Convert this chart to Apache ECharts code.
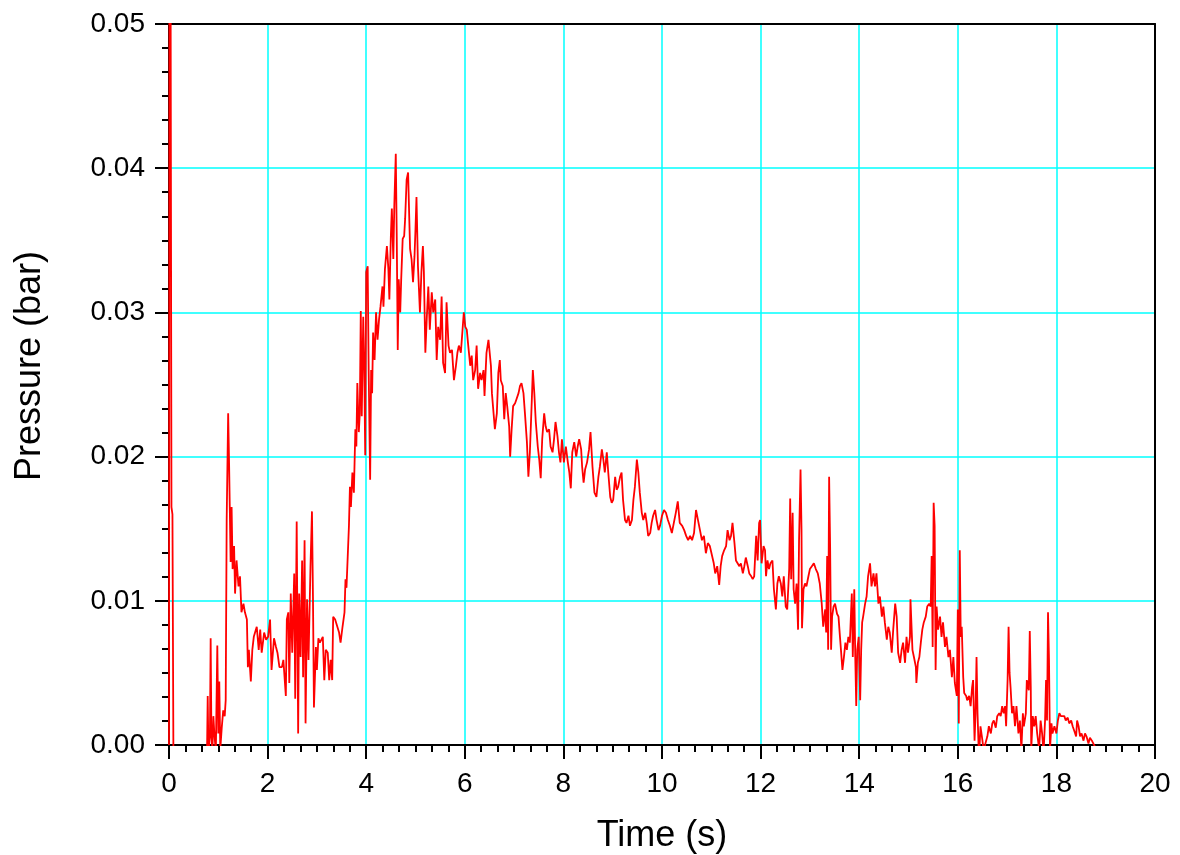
<!DOCTYPE html>
<html>
<head>
<meta charset="utf-8">
<title>Pressure vs Time</title>
<script src="https://cdn.jsdelivr.net/npm/echarts@6/dist/echarts.min.js"></script>
<style>
  html, body { margin: 0; padding: 0; background: #ffffff; }
  #chart { width: 1180px; height: 855px; }
</style>
</head>
<body>
<div id="chart"></div>
<script>
// Pressure trace, [time (s), pressure (bar)], split by phase of the event.
const initialPulse = [
  [0, 0], [0.01, 0.062], [0.03, 0.058], [0.05, 0.0165], [0.07, 0.016], [0.09, -0.001],
  [0.3, -0.001], [0.5, -0.001], [0.7, -0.001], [0.77, -0.001]
];

const earlyBurst = [
  [0.785, 0.0034], [0.80, -0.0005], [0.83, 0.0006], [0.845, 0.0074], [0.86, 0.0008], [0.88, -0.0005],
  [0.90, 0.002], [0.92, 0.0008], [0.95, -0.0005], [0.98, 0.0069], [1.00, 0.0008], [1.02, 0.0044],
  [1.04, -0.0003], [1.07, 0.0012], [1.10, 0.0024], [1.13, 0.002], [1.15, 0.0031],
  [1.17, 0.0156], [1.20, 0.023], [1.22, 0.0193], [1.25, 0.0127], [1.27, 0.0165], [1.29, 0.0122],
  [1.32, 0.0138], [1.34, 0.0105], [1.37, 0.0128], [1.41, 0.011], [1.44, 0.0117], [1.47, 0.0092],
  [1.51, 0.0098], [1.54, 0.0092], [1.58, 0.0087], [1.60, 0.0054], [1.62, 0.0066], [1.66, 0.0044],
  [1.69, 0.0066], [1.72, 0.0075], [1.78, 0.0082], [1.82, 0.0066], [1.85, 0.008], [1.88, 0.0064],
  [1.93, 0.0078], [1.97, 0.0073], [2.01, 0.0075], [2.05, 0.0087], [2.08, 0.0052], [2.13, 0.0074],
  [2.17, 0.0068], [2.20, 0.0064], [2.24, 0.0054], [2.29, 0.0054], [2.32, 0.0059], [2.37, 0.0034],
  [2.39, 0.0087], [2.42, 0.0092], [2.44, 0.0043], [2.47, 0.0105], [2.50, 0.0064], [2.54, 0.0119],
  [2.56, 0.0032], [2.59, 0.0155], [2.62, 0.0008], [2.64, 0.0105], [2.67, 0.0061], [2.70, 0.0128],
  [2.72, 0.0047], [2.75, 0.0142], [2.77, 0.0015], [2.80, 0.0101], [2.83, 0.0059], [2.87, 0.0124],
  [2.90, 0.0162], [2.92, 0.0103], [2.94, 0.0026], [2.98, 0.0068], [3.00, 0.0052], [3.03, 0.0074],
  [3.06, 0.0071], [3.12, 0.0075], [3.15, 0.0045], [3.18, 0.0066], [3.22, 0.0064], [3.25, 0.0045],
  [3.28, 0.0059], [3.31, 0.0045], [3.33, 0.0089], [3.37, 0.0087], [3.41, 0.0088], [3.45, 0.0078],
  [3.48, 0.0071], [3.52, 0.0082], [3.56, 0.0092], [3.58, 0.0115], [3.60, 0.0109], [3.65, 0.0152],
  [3.67, 0.0179], [3.69, 0.0165], [3.72, 0.0189], [3.75, 0.0175], [3.78, 0.0219], [3.80, 0.0207]
];

const mainPeak = [
  [3.82, 0.0251], [3.85, 0.0217], [3.87, 0.023], [3.89, 0.0301], [3.91, 0.0228], [3.94, 0.0297],
  [3.96, 0.0263], [3.98, 0.0201], [4.00, 0.0328], [4.03, 0.0332], [4.05, 0.026], [4.08, 0.0184],
  [4.10, 0.026], [4.12, 0.0244], [4.14, 0.0286], [4.17, 0.0267], [4.20, 0.03], [4.23, 0.0281],
  [4.26, 0.0295], [4.29, 0.0304], [4.33, 0.0318], [4.35, 0.0304], [4.38, 0.033], [4.42, 0.0346],
  [4.45, 0.033], [4.47, 0.0309], [4.50, 0.0353], [4.52, 0.0372], [4.55, 0.0337], [4.57, 0.0374],
  [4.60, 0.041], [4.62, 0.0351], [4.64, 0.0274], [4.66, 0.0323], [4.69, 0.03], [4.71, 0.0323],
  [4.74, 0.0351], [4.77, 0.0353], [4.79, 0.0365], [4.82, 0.0392], [4.85, 0.0397], [4.87, 0.037],
  [4.89, 0.0344], [4.92, 0.0337], [4.95, 0.0321], [4.98, 0.0339], [5.00, 0.0358], [5.02, 0.038],
  [5.05, 0.0332], [5.07, 0.0316], [5.09, 0.03], [5.12, 0.0328], [5.15, 0.0346], [5.17, 0.0328],
  [5.20, 0.0272], [5.23, 0.0297], [5.26, 0.0318], [5.29, 0.0288], [5.33, 0.0314], [5.36, 0.03],
  [5.40, 0.0309], [5.43, 0.0267], [5.46, 0.029], [5.50, 0.0281], [5.53, 0.0311], [5.56, 0.0265],
  [5.60, 0.0258], [5.63, 0.0307], [5.67, 0.0277], [5.70, 0.0272], [5.74, 0.0274], [5.78, 0.0253],
  [5.82, 0.0263], [5.85, 0.0272], [5.88, 0.0277], [5.92, 0.0272], [5.95, 0.0286], [5.98, 0.03],
  [6.01, 0.029], [6.04, 0.0288], [6.07, 0.0277], [6.11, 0.0263], [6.14, 0.027], [6.17, 0.0253],
  [6.21, 0.026], [6.24, 0.0277], [6.27, 0.0247], [6.31, 0.0258], [6.34, 0.0253], [6.38, 0.026],
  [6.40, 0.0242], [6.44, 0.0272], [6.48, 0.0281], [6.53, 0.0263], [6.55, 0.0244], [6.58, 0.0244],
  [6.61, 0.0219], [6.65, 0.023], [6.68, 0.0258], [6.71, 0.0267], [6.73, 0.0253], [6.77, 0.0249],
  [6.80, 0.0226], [6.83, 0.0244], [6.86, 0.0235], [6.90, 0.0221], [6.92, 0.02], [6.95, 0.0219],
  [6.98, 0.0235], [7.02, 0.0237], [7.05, 0.024], [7.09, 0.0244], [7.12, 0.0249], [7.15, 0.0251],
  [7.19, 0.0244], [7.22, 0.023], [7.26, 0.021], [7.29, 0.0186], [7.32, 0.0203], [7.36, 0.024],
  [7.38, 0.026], [7.41, 0.0244], [7.44, 0.0224], [7.48, 0.0207], [7.51, 0.0198], [7.54, 0.0185],
  [7.57, 0.0212], [7.61, 0.023], [7.64, 0.0221], [7.67, 0.0217], [7.71, 0.0219], [7.74, 0.0207],
  [7.78, 0.0203], [7.81, 0.0212], [7.84, 0.0224], [7.88, 0.0214], [7.91, 0.0203]
];

const decay = [
  [7.94, 0.0196], [7.97, 0.0212], [8.01, 0.0196], [8.05, 0.0207], [8.09, 0.0196], [8.12, 0.0189],
  [8.15, 0.0178], [8.18, 0.0203], [8.22, 0.021], [8.26, 0.02], [8.29, 0.0207], [8.32, 0.0212],
  [8.36, 0.0205], [8.38, 0.0193], [8.41, 0.0182], [8.44, 0.0191], [8.48, 0.0196], [8.52, 0.0205],
  [8.55, 0.0217], [8.59, 0.0193], [8.63, 0.0175], [8.67, 0.0172], [8.71, 0.0186], [8.74, 0.0193],
  [8.78, 0.0205], [8.81, 0.0198], [8.84, 0.0189], [8.88, 0.0203], [8.91, 0.0189], [8.95, 0.0172],
  [8.98, 0.0168], [9.01, 0.017], [9.05, 0.0186], [9.08, 0.0177], [9.11, 0.0179], [9.15, 0.0186],
  [9.18, 0.0189], [9.21, 0.017], [9.25, 0.0156], [9.28, 0.0154], [9.32, 0.0159], [9.35, 0.0152],
  [9.39, 0.0156], [9.42, 0.017], [9.45, 0.0179], [9.49, 0.0198], [9.52, 0.0189], [9.55, 0.0175],
  [9.59, 0.0161], [9.62, 0.0156], [9.66, 0.0161], [9.69, 0.0154], [9.72, 0.0145], [9.76, 0.0147],
  [9.79, 0.0154], [9.82, 0.0159], [9.86, 0.0163], [9.89, 0.0156], [9.93, 0.0149], [9.96, 0.0152],
  [10.00, 0.0159], [10.04, 0.0163], [10.08, 0.0161], [10.12, 0.0156], [10.16, 0.0152], [10.20, 0.0147],
  [10.24, 0.0154], [10.28, 0.0161], [10.32, 0.0169], [10.36, 0.0154], [10.41, 0.0152], [10.45, 0.0149],
  [10.49, 0.0145], [10.53, 0.0142], [10.57, 0.0145], [10.61, 0.0142], [10.65, 0.0147], [10.69, 0.0163],
  [10.73, 0.0156], [10.77, 0.0149], [10.81, 0.0142], [10.85, 0.0145], [10.89, 0.0133], [10.93, 0.014],
  [10.97, 0.0138], [11.01, 0.0138], [11.05, 0.0126], [11.08, 0.0119], [11.12, 0.0124], [11.16, 0.0111],
  [11.19, 0.0124], [11.22, 0.0131], [11.26, 0.0135], [11.30, 0.0138], [11.33, 0.0149], [11.37, 0.0142],
  [11.40, 0.0145], [11.43, 0.0154], [11.47, 0.014], [11.50, 0.0128], [11.54, 0.0128], [11.57, 0.0124],
  [11.60, 0.0126], [11.64, 0.0119], [11.67, 0.0124], [11.70, 0.013], [11.74, 0.0124], [11.77, 0.0119],
  [11.81, 0.0117], [11.84, 0.0115], [11.87, 0.0117], [11.91, 0.0145], [11.94, 0.0128], [11.97, 0.0154],
  [11.99, 0.0156]
];

const lateSpikes = [
  [12.02, 0.0126], [12.06, 0.0138], [12.09, 0.0135], [12.11, 0.0117], [12.14, 0.0128], [12.17, 0.0122],
  [12.20, 0.0126], [12.24, 0.0128], [12.27, 0.0108], [12.31, 0.0094], [12.34, 0.0112], [12.37, 0.0117],
  [12.41, 0.0112], [12.44, 0.0103], [12.47, 0.0117], [12.51, 0.0096], [12.54, 0.0094], [12.58, 0.0122],
  [12.60, 0.0171], [12.62, 0.0115], [12.65, 0.0161], [12.67, 0.0108], [12.70, 0.0098], [12.73, 0.0112],
  [12.76, 0.008], [12.78, 0.0142], [12.81, 0.0191], [12.83, 0.0149], [12.84, 0.0081], [12.87, 0.0108],
  [12.90, 0.0112], [12.93, 0.011], [12.97, 0.0117], [13.00, 0.0122], [13.04, 0.0124], [13.08, 0.0126],
  [13.12, 0.0122], [13.16, 0.0119], [13.20, 0.0112], [13.24, 0.0098], [13.27, 0.0082], [13.31, 0.0094],
  [13.33, 0.0078], [13.35, 0.0131], [13.37, 0.0066], [13.39, 0.0186], [13.41, 0.0138], [13.43, 0.0066],
  [13.45, 0.0089], [13.48, 0.0096], [13.51, 0.0098], [13.55, 0.0091], [13.58, 0.0089], [13.61, 0.0075],
  [13.63, 0.0066], [13.66, 0.0052], [13.69, 0.0061], [13.72, 0.0071], [13.75, 0.0066], [13.78, 0.0075],
  [13.81, 0.0071], [13.85, 0.0105], [13.87, 0.0061], [13.90, 0.0108], [13.92, 0.0061], [13.94, 0.0027],
  [13.96, 0.0066], [13.99, 0.0075], [14.02, 0.0031], [14.04, 0.0066], [14.06, 0.0085], [14.08, 0.0089],
  [14.12, 0.0098], [14.15, 0.0103], [14.18, 0.0117], [14.22, 0.0126], [14.25, 0.011], [14.29, 0.0119],
  [14.32, 0.011], [14.35, 0.0119], [14.39, 0.0098], [14.42, 0.0103], [14.46, 0.0089], [14.49, 0.0096],
  [14.52, 0.0085], [14.56, 0.0073], [14.59, 0.0082], [14.62, 0.0078], [14.66, 0.0064], [14.69, 0.008],
  [14.73, 0.0098], [14.76, 0.0089], [14.79, 0.0064], [14.83, 0.0057], [14.86, 0.0066], [14.89, 0.0071],
  [14.93, 0.0057], [14.96, 0.0075], [14.99, 0.0064], [15.03, 0.0075], [15.04, 0.0101], [15.08, 0.0066],
  [15.11, 0.0061], [15.15, 0.0054], [15.16, 0.0043], [15.19, 0.0057], [15.22, 0.0061], [15.25, 0.0071],
  [15.28, 0.008], [15.31, 0.0085], [15.35, 0.0089], [15.38, 0.0096], [15.42, 0.0098], [15.45, 0.0096],
  [15.47, 0.0131], [15.49, 0.0068], [15.51, 0.0168], [15.53, 0.0152], [15.55, 0.0052], [15.57, 0.0096],
  [15.60, 0.008], [15.64, 0.0089], [15.67, 0.0075], [15.70, 0.0085], [15.74, 0.0068], [15.77, 0.0075],
  [15.81, 0.0061], [15.84, 0.0066], [15.88, 0.0047], [15.91, 0.0061], [15.94, 0.0043], [15.98, 0.0034],
  [16.00, 0.0094], [16.02, 0.0015], [16.04, 0.0135], [16.06, 0.0075], [16.08, 0.0082]
];

const tail = [
  [16.11, 0.0047], [16.13, 0.0036], [16.17, 0.0034], [16.19, 0.0031], [16.23, 0.0034], [16.26, 0.0027],
  [16.29, 0.004], [16.31, 0.0045], [16.34, 0.0003], [16.36, 0.0022], [16.38, 0.0061], [16.40, 0.0022],
  [16.43, -0.001], [16.46, 0.0013], [16.50, 0.0003], [16.53, -0.0005], [16.56, 0.0001], [16.60, 0.0006],
  [16.63, 0.0013], [16.67, 0.0008], [16.70, 0.0015], [16.73, 0.0017], [16.77, 0.0012], [16.80, 0.002],
  [16.84, 0.0022], [16.87, 0.002], [16.90, 0.0027], [16.93, 0.0022], [16.96, 0.0027], [16.98, 0.0013],
  [17.01, 0.0045], [17.03, 0.0082], [17.05, 0.005], [17.07, 0.004], [17.10, 0.0022], [17.13, 0.0027],
  [17.16, 0.0013], [17.19, 0.0027], [17.23, 0.0008], [17.26, 0.0017], [17.29, -0.0003], [17.32, 0.0022],
  [17.34, 0.0013], [17.38, 0.0022], [17.40, 0.0045], [17.44, 0.0038], [17.46, 0.0079], [17.48, 0.004],
  [17.49, -0.0003], [17.52, 0.002], [17.55, 0.0013], [17.58, 0.002], [17.61, 0.0008], [17.65, -0.0003],
  [17.68, 0.0017], [17.71, 0.0008], [17.74, -0.0005], [17.77, 0.0017], [17.79, 0.0045], [17.81, 0.0017],
  [17.83, 0.0092], [17.85, 0.0059], [17.87, -0.0003], [17.90, 0.0015], [17.92, 0.0008], [17.96, 0.0013],
  [18.00, 0.0008], [18.03, 0.0017], [18.06, 0.0022], [18.09, 0.002], [18.13, 0.0019], [18.16, 0.002],
  [18.19, 0.0017], [18.23, 0.0019], [18.26, 0.0015], [18.30, 0.0017], [18.33, 0.0013], [18.36, 0.001],
  [18.40, 0.0006], [18.42, 0.0017], [18.45, 0.0013], [18.48, 0.0006], [18.51, 0.0008], [18.55, 0.0003],
  [18.58, 0.0008], [18.61, 0.0006], [18.65, 0.0001], [18.68, 0.0005], [18.72, 0.0003], [18.75, 0.0001],
  [18.78, -0.0001], [18.82, -0.0003]
];

// Axis ranges and titles
const timeRange = { min: 0, max: 20, step: 2 };
const pressureRange = { min: 0, max: 0.05, step: 0.01 };
const xTitle = 'Time (s)';
const yTitle = 'Pressure (bar)';

const trace = [].concat(initialPulse, earlyBurst, mainPeak, decay, lateSpikes, tail);

const FONT = '"Liberation Sans", Arial, Helvetica, sans-serif';
const black = '#000000';
const gridCyan = '#00ffff';

const chart = echarts.init(document.getElementById('chart'), null, { renderer: 'canvas' });

// Plain black frame lines for the top and right edges of the plot
const frameAxis = {
  show: true,
  axisLine: { show: true, onZero: false, lineStyle: { color: black, width: 2 } },
  axisTick: { show: false },
  axisLabel: { show: false },
  splitLine: { show: false },
  minorTick: { show: false }
};

const gridLeft = 169, gridRight = 25, gridTop = 24, gridBottom = 110;
const plotCenterX = gridLeft + (1180 - gridLeft - gridRight) / 2;

chart.setOption({
  animation: false,
  backgroundColor: '#ffffff',
  grid: { left: gridLeft, right: gridRight, top: gridTop, bottom: gridBottom, containLabel: false },
  xAxis: [
    {
      type: 'value',
      position: 'bottom',
      min: timeRange.min,
      max: timeRange.max,
      interval: timeRange.step,
      axisLine: { show: true, onZero: false, lineStyle: { color: black, width: 2 } },
      axisTick: { show: true, inside: false, length: 14, lineStyle: { color: black, width: 2 } },
      minorTick: { show: true, splitNumber: 6, length: 7, lineStyle: { color: black, width: 2 } },
      axisLabel: { fontFamily: FONT, fontSize: 28, color: black, margin: 25 },
      splitLine: { show: true, showMinLine: false, showMaxLine: false, lineStyle: { color: gridCyan, width: 1.5 } }
    },
    Object.assign({ type: 'value', position: 'top', min: timeRange.min, max: timeRange.max }, frameAxis)
  ],
  yAxis: [
    {
      type: 'value',
      position: 'left',
      min: pressureRange.min,
      max: pressureRange.max,
      interval: pressureRange.step,
      axisLine: { show: true, onZero: false, lineStyle: { color: black, width: 2 } },
      axisTick: { show: true, inside: false, length: 14, lineStyle: { color: black, width: 2 } },
      minorTick: { show: true, splitNumber: 6, length: 7, lineStyle: { color: black, width: 2 } },
      axisLabel: {
        fontFamily: FONT, fontSize: 28, color: black, margin: 24,
        formatter: v => v.toFixed(2)
      },
      splitLine: { show: true, showMinLine: false, showMaxLine: false, lineStyle: { color: gridCyan, width: 1.5 } }
    },
    Object.assign({ type: 'value', position: 'right', min: pressureRange.min, max: pressureRange.max }, frameAxis)
  ],
  graphic: [
    {
      type: 'text',
      x: plotCenterX,
      y: 836,
      style: {
        text: xTitle, fontFamily: FONT, fontSize: 36, fill: black,
        textAlign: 'center', textVerticalAlign: 'middle'
      }
    },
    {
      type: 'text',
      x: 30,
      y: 366,
      rotation: Math.PI / 2,
      style: {
        text: yTitle, fontFamily: FONT, fontSize: 36, fill: black,
        textAlign: 'center', textVerticalAlign: 'middle'
      }
    }
  ],
  series: [
    {
      type: 'line',
      xAxisIndex: 0,
      yAxisIndex: 0,
      data: trace,
      showSymbol: false,
      symbol: 'none',
      clip: true,
      lineStyle: { color: '#ff0000', width: 1.8 },
      z: 3
    }
  ]
});
</script>
</body>
</html>
